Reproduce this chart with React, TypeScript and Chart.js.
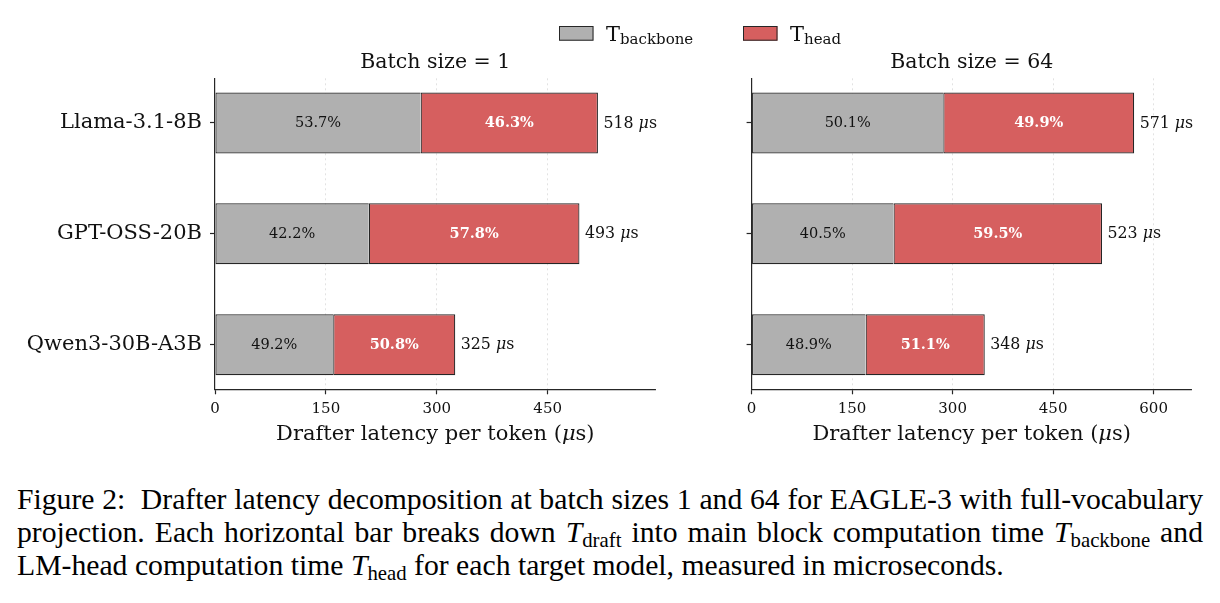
import React, { useEffect, useRef } from "react";
import { Chart, registerables } from "chart.js";

Chart.register(...registerables);

// ---------- data ----------
const models = ["Llama-3.1-8B", "GPT-OSS-20B", "Qwen3-30B-A3B"];

const total1 = [518, 493, 325];
const backbonePct1 = [53.7, 42.2, 49.2];
const headPct1 = [46.3, 57.8, 50.8];
const xTicks1 = [0, 150, 300, 450];
const xMax1 = 596;

const total64 = [571, 523, 348];
const backbonePct64 = [50.1, 40.5, 48.9];
const headPct64 = [49.9, 59.5, 51.1];
const xTicks64 = [0, 150, 300, 450, 600];
const xMax64 = 657;

const legendLabels = ["backbone", "head"];
const xTitleMain = "Drafter latency per token (";

// ---------- style ----------
const SERIF = "'DejaVu Serif', serif";
const TEXT = "#111111";
const EDGE = "#262626";
const GREY = "#b0b0b0";
const RED = "#d65f5f";
const W = 1220;
const H = 450;

type Panel = {
  title: string;
  totals: number[];
  bbPct: number[];
  hdPct: number[];
  xMax: number;
  xTicks: number[];
  showYLabels: boolean;
  yWidth: number;
  padRight: number;
  legend: boolean;
};

function drawParts(
  ctx: CanvasRenderingContext2D,
  parts: { text: string; font: string }[],
  x: number,
  y: number,
  align: "left" | "center"
) {
  let total = 0;
  for (const p of parts) {
    ctx.font = p.font;
    total += ctx.measureText(p.text).width;
  }
  let cx = align === "center" ? x - total / 2 : x;
  ctx.textAlign = "left";
  for (const p of parts) {
    ctx.font = p.font;
    ctx.fillText(p.text, cx, y);
    cx += ctx.measureText(p.text).width;
  }
}

const annotate = {
  id: "annotate",
  afterDraw(chart: any, _args: any, opts: any) {
    const p: Panel = opts.panel;
    const ctx: CanvasRenderingContext2D = chart.ctx;
    const ca = chart.chartArea;
    const cx = (ca.left + ca.right) / 2;
    ctx.save();
    ctx.fillStyle = TEXT;
    ctx.textBaseline = "alphabetic";

    // panel title
    ctx.font = `20.5px ${SERIF}`;
    ctx.textAlign = "center";
    ctx.fillText(p.title, cx, 68.3);

    // x axis title
    drawParts(
      ctx,
      [
        { text: xTitleMain, font: `21px ${SERIF}` },
        { text: "\u03bc", font: `italic 21px ${SERIF}` },
        { text: "s)", font: `21px ${SERIF}` },
      ],
      cx,
      440,
      "center"
    );

    // percent labels and totals
    const m0 = chart.getDatasetMeta(0);
    const m1 = chart.getDatasetMeta(1);
    ctx.textBaseline = "middle";
    for (let i = 0; i < models.length; i++) {
      const a = m0.data[i];
      const b = m1.data[i];
      ctx.textAlign = "center";
      ctx.fillStyle = TEXT;
      ctx.font = `14.5px ${SERIF}`;
      ctx.fillText(`${p.bbPct[i].toFixed(1)}%`, (a.x + a.base) / 2, a.y + 0.5);
      ctx.fillStyle = "#ffffff";
      ctx.font = `bold 14.5px ${SERIF}`;
      ctx.fillText(`${p.hdPct[i].toFixed(1)}%`, (b.x + b.base) / 2, b.y + 0.5);
      ctx.fillStyle = TEXT;
      drawParts(
        ctx,
        [
          { text: `${p.totals[i]} `, font: `15.8px ${SERIF}` },
          { text: "\u03bc", font: `italic 15.8px ${SERIF}` },
          { text: "s", font: `15.8px ${SERIF}` },
        ],
        b.x + 5.5,
        b.y + 0.5,
        "left"
      );
    }

    // legend
    if (p.legend) {
      const items = [
        { color: GREY, x: 559, tx: 606 },
        { color: RED, x: 743, tx: 790 },
      ];
      items.forEach((it, k) => {
        ctx.fillStyle = it.color;
        ctx.fillRect(it.x, 26, 34.5, 14.7);
        ctx.strokeStyle = EDGE;
        ctx.lineWidth = 1;
        ctx.strokeRect(it.x + 0.5, 26.5, 33.5, 13.7);
        ctx.fillStyle = TEXT;
        ctx.textBaseline = "alphabetic";
        ctx.textAlign = "left";
        ctx.font = `21px ${SERIF}`;
        ctx.fillText("T", it.tx, 40.7);
        const tw = ctx.measureText("T").width;
        ctx.font = `15px ${SERIF}`;
        ctx.fillText(legendLabels[k], it.tx + tw, 43.7);
      });
    }
    ctx.restore();
  },
};

function makeConfig(p: Panel): any {
  const bb = p.totals.map((t, i) => ({ x: (t * p.bbPct[i]) / 100, y: i }));
  const hd = p.totals.map((t, i) => ({ x: (t * p.hdPct[i]) / 100, y: i }));
  return {
    type: "bar",
    data: {
      datasets: [
        {
          label: "T_backbone",
          data: bb,
          backgroundColor: GREY,
          borderColor: EDGE,
          borderWidth: { top: 1.2, bottom: 1.2, left: 1.2, right: 0 },
          borderSkipped: false,
          categoryPercentage: 0.55,
          barPercentage: 1,
        },
        {
          label: "T_head",
          data: hd,
          backgroundColor: RED,
          borderColor: EDGE,
          borderWidth: 1.2,
          borderSkipped: false,
          categoryPercentage: 0.55,
          barPercentage: 1,
        },
      ],
    },
    options: {
      indexAxis: "y",
      animation: false,
      responsive: false,
      devicePixelRatio: 1,
      layout: { padding: { top: 78.3, right: p.padRight, bottom: 0, left: 0 } },
      plugins: {
        legend: { display: false },
        tooltip: { enabled: false },
        title: { display: false },
        annotate: { panel: p },
      },
      scales: {
        x: {
          type: "linear",
          min: 0,
          max: p.xMax,
          stacked: true,
          offset: false,
          afterBuildTicks: (s: any) => {
            s.ticks = p.xTicks.map((v) => ({ value: v }));
          },
          afterFit: (s: any) => {
            s.height = H - 389.3;
          },
          ticks: {
            font: { family: SERIF, size: 15 },
            color: TEXT,
            padding: 6,
            maxRotation: 0,
            autoSkip: false,
          },
          grid: {
            offset: false,
            color: (c: any) =>
              c.tick && c.tick.value === 0 ? "rgba(0,0,0,0)" : "rgba(0,0,0,0.13)",
            lineWidth: 0.9,
            drawTicks: true,
            tickLength: 5,
            tickColor: EDGE,
            tickWidth: 1.2,
          },
          border: { display: true, color: EDGE, width: 1.2, dash: [2, 3] },
        },
        y: {
          type: "linear",
          min: -0.4025,
          max: 2.4025,
          reverse: true,
          stacked: true,
          offset: false,
          afterBuildTicks: (s: any) => {
            s.ticks = models.map((_, i) => ({ value: i }));
          },
          afterFit: (s: any) => {
            s.width = p.yWidth;
          },
          ticks: {
            display: p.showYLabels,
            callback: (v: any) => models[v] ?? "",
            font: { family: SERIF, size: 21 },
            color: TEXT,
            padding: 8,
            autoSkip: false,
          },
          grid: {
            offset: false,
            drawOnChartArea: false,
            drawTicks: true,
            tickLength: 5,
            tickColor: EDGE,
            tickWidth: 1.2,
          },
          border: { display: true, color: EDGE, width: 1.2 },
        },
      },
    },
    plugins: [annotate],
  };
}

const panelLeft: Panel = {
  title: "Batch size = 1",
  totals: total1,
  bbPct: backbonePct1,
  hdPct: headPct1,
  xMax: xMax1,
  xTicks: xTicks1,
  showYLabels: true,
  yWidth: 215,
  padRight: W - 655.6,
  legend: true,
};

const panelRight: Panel = {
  title: "Batch size = 64",
  totals: total64,
  bbPct: backbonePct64,
  hdPct: headPct64,
  xMax: xMax64,
  xTicks: xTicks64,
  showYLabels: false,
  yWidth: 751.6,
  padRight: W - 1191.8,
  legend: false,
};

function ChartCanvas({ panel }: { panel: Panel }) {
  const ref = useRef<HTMLCanvasElement | null>(null);
  useEffect(() => {
    if (!ref.current) return;
    const chart = new Chart(ref.current, makeConfig(panel));
    return () => chart.destroy();
  }, [panel]);
  return (
    <canvas
      ref={ref}
      width={W}
      height={H}
      style={{ position: "absolute", left: 0, top: 0, width: W, height: H }}
    />
  );
}

const Sub = ({ t }: { t: string }) => (
  <span style={{ fontSize: "0.7em", position: "relative", top: "0.25em" }}>{t}</span>
);
const MT = () => <span style={{ fontStyle: "italic" }}>T</span>;

export default function App() {
  const lineStyle: React.CSSProperties = {
    textAlign: "justify",
    textAlignLast: "justify",
    whiteSpace: "nowrap",
    height: 33,
  };
  return (
    <div
      style={{
        position: "fixed",
        left: 0,
        top: 0,
        width: W,
        height: 603,
        background: "#ffffff",
        overflow: "hidden",
      }}
    >
      <ChartCanvas panel={panelLeft} />
      <ChartCanvas panel={panelRight} />
      <div
        style={{
          position: "absolute",
          left: 17,
          top: 483,
          width: 1186,
          fontFamily: "'Liberation Serif', 'Times New Roman', serif",
          fontSize: 29.7,
          lineHeight: "33px",
          color: "#000",
        }}
      >
        <div style={lineStyle}>
          Figure 2:{"\u00a0"} Drafter latency decomposition at batch sizes 1 and 64 for EAGLE-3 with full-vocabulary
        </div>
        <div style={lineStyle}>
          projection. Each horizontal bar breaks down <MT />
          <Sub t="draft" /> into main block computation time <MT />
          <Sub t="backbone" /> and
        </div>
        <div style={{ whiteSpace: "nowrap", height: 33 }}>
          LM-head computation time <MT />
          <Sub t="head" /> for each target model, measured in microseconds.
        </div>
      </div>
    </div>
  );
}
